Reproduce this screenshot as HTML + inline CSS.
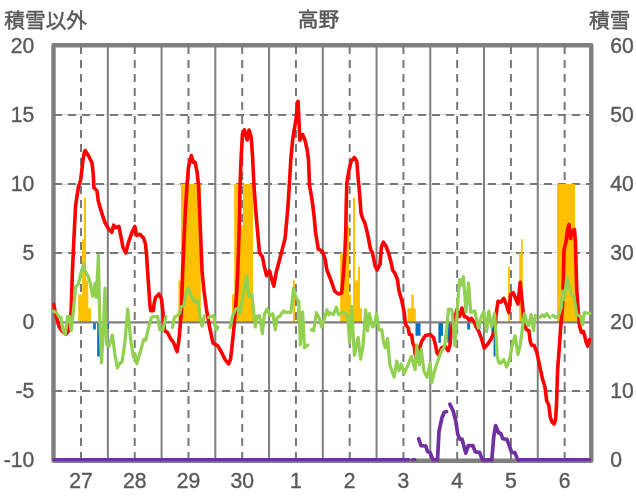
<!DOCTYPE html>
<html lang="ja"><head><meta charset="utf-8"><title>高野</title>
<style>html,body{margin:0;padding:0;background:#fff}svg{display:block}.t{filter:grayscale(1)}text{font-family:"Liberation Sans","Noto Sans CJK JP",sans-serif;fill:#595959}</style>
</head><body>
<svg width="636" height="501" viewBox="0 0 636 501">
<rect width="636" height="501" fill="#fff"/>
<rect x="53.5" y="45.25" width="537.80" height="415.45" fill="none" stroke="#7f7f7f" stroke-width="4.4" stroke-linejoin="round"/>
<g stroke="#d9d9d9" stroke-width="1">
<line x1="54.0" x2="591.6" y1="114.5" y2="114.5"/>
<line x1="54.0" x2="591.6" y1="184.5" y2="184.5"/>
<line x1="54.0" x2="591.6" y1="252.5" y2="252.5"/>
<line x1="54.0" x2="591.6" y1="391.5" y2="391.5"/>
</g>
<g stroke="#787878" stroke-width="2" stroke-dasharray="8 6">
<line x1="54.0" x2="591.6" y1="115.0" y2="115.0"/>
<line x1="54.0" x2="591.6" y1="184.0" y2="184.0"/>
<line x1="54.0" x2="591.6" y1="253.0" y2="253.0"/>
<line x1="54.0" x2="591.6" y1="391.0" y2="391.0"/>
<line x1="81.00" x2="81.00" y1="46" y2="460.0"/>
<line x1="134.74" x2="134.74" y1="46" y2="460.0"/>
<line x1="188.48" x2="188.48" y1="46" y2="460.0"/>
<line x1="242.22" x2="242.22" y1="46" y2="460.0"/>
<line x1="295.96" x2="295.96" y1="46" y2="460.0"/>
<line x1="349.70" x2="349.70" y1="46" y2="460.0"/>
<line x1="403.44" x2="403.44" y1="46" y2="460.0"/>
<line x1="457.18" x2="457.18" y1="46" y2="460.0"/>
<line x1="510.92" x2="510.92" y1="46" y2="460.0"/>
<line x1="564.66" x2="564.66" y1="46" y2="460.0"/>
</g>
<g stroke="#7f7f7f" stroke-width="2">
<line x1="107.84" x2="107.84" y1="46.0" y2="460.0"/>
<line x1="161.58" x2="161.58" y1="46.0" y2="460.0"/>
<line x1="215.32" x2="215.32" y1="46.0" y2="460.0"/>
<line x1="269.06" x2="269.06" y1="46.0" y2="460.0"/>
<line x1="322.80" x2="322.80" y1="46.0" y2="460.0"/>
<line x1="376.54" x2="376.54" y1="46.0" y2="460.0"/>
<line x1="430.28" x2="430.28" y1="46.0" y2="460.0"/>
<line x1="484.02" x2="484.02" y1="46.0" y2="460.0"/>
<line x1="537.76" x2="537.76" y1="46.0" y2="460.0"/>
</g>
<path fill="#ffc000" d="M78.2,322.0V294.4H82.2V239.2H84.0V197.8H86.0V280.6H88.3V308.2H91.0V322.0ZM178.4,322.0V280.6H180.9V184.0H200.8V322.0ZM232.0,322.0V294.4H234.2V184.0H240.5V225.4H243.0V184.0H253.0V322.0ZM293.0,322.0V280.6H295.0V322.0ZM297.0,322.0V308.2H299.0V322.0ZM340.2,322.0V253.0H347.0V225.4H349.0V294.4H351.0V322.0ZM353.0,322.0V197.8H355.2V280.6H358.0V266.8H360.0V308.2H362.0V322.0ZM407.5,322.0V308.2H411.3V294.4H413.7V308.2H415.8V322.0ZM508.0,322.0V266.8H509.8V322.0ZM519.2,322.0V253.0H521.0V239.2H522.8V322.0ZM557.0,322.0V184.0H575.0V239.2H577.2V322.0Z"/>
<path fill="#0070c0" d="M93.2,322.0V329.6H95.8V322.0ZM97.2,322.0V356.5H100.0V322.0ZM102.0,322.0V328.9H104.0V322.0ZM107.3,322.0V328.9H109.0V322.0ZM415.5,322.0V335.8H420.5V322.0ZM438.4,322.0V342.7H440.9V335.8H443.0V322.0ZM447.4,322.0V342.7H450.4V322.0ZM467.2,322.0V329.6H470.0V322.0ZM477.6,322.0V328.9H480.5V322.0ZM491.4,322.0V335.8H493.6V356.5H495.6V322.0Z"/>
<line x1="54.0" x2="591.6" y1="322.3" y2="322.3" stroke="#7f7f7f" stroke-width="2.3"/>
<polyline fill="none" stroke="#ff0000" stroke-width="3.6" stroke-linejoin="round" stroke-linecap="round" points="53.8,304.5 55.4,313.0 59.0,326.5 62.0,331.0 66.0,334.0 68.5,331.0 69.5,326.0 71.1,311.0 72.4,272.0 73.7,243.4 74.6,224.8 75.6,205.8 78.4,186.9 80.6,180.5 81.6,172.0 83.0,160.0 84.2,153.0 85.1,150.5 88.9,156.5 92.1,163.2 93.2,173.6 94.0,187.8 97.0,190.7 98.3,201.1 100.2,207.7 103.1,217.2 105.0,222.6 108.4,228.6 111.7,232.4 113.7,225.2 116.1,227.7 118.9,226.3 120.9,236.3 123.0,247.5 125.8,253.0 128.6,241.9 132.1,232.1 134.9,226.5 136.6,235.4 139.8,234.2 143.3,237.7 145.4,243.3 146.6,255.0 147.6,271.9 149.0,290.8 149.8,304.0 150.7,310.8 153.2,310.8 154.2,303.0 155.6,297.5 159.0,294.0 161.5,299.0 163.0,313.0 164.5,330.5 167.6,332.7 170.4,338.3 173.3,342.1 177.1,351.6 179.0,339.3 180.5,322.2 181.5,309.0 182.6,272.0 184.3,234.0 185.4,210.0 186.9,186.9 188.4,167.9 191.3,155.6 193.2,162.2 195.1,162.2 197.0,171.7 198.5,185.0 199.4,205.8 200.4,230.0 202.1,271.9 204.0,290.8 206.4,309.0 209.7,327.9 213.1,343.1 217.8,345.9 220.7,350.7 225.4,360.1 228.6,363.9 230.5,359.2 232.0,346.9 233.9,327.9 235.5,309.0 236.8,290.8 237.7,271.9 238.7,243.4 239.6,215.0 240.0,186.9 241.1,158.4 242.5,133.5 244.4,129.8 247.2,140.0 249.1,130.0 251.2,137.5 252.6,157.0 254.0,186.0 255.7,210.0 257.6,232.0 259.5,252.9 262.4,256.7 264.3,266.2 266.5,275.7 269.6,270.9 271.8,279.5 273.8,286.1 276.3,272.0 281.4,252.9 285.2,237.7 286.6,222.0 288.0,205.8 289.2,186.9 290.9,158.4 292.7,139.5 294.2,130.0 296.0,119.0 298.0,101.2 299.9,140.2 302.6,134.5 305.0,140.2 307.2,150.0 308.5,160.0 309.5,185.0 312.1,200.1 314.0,215.3 315.5,232.0 318.3,249.1 322.1,251.0 325.0,258.6 326.9,270.0 330.7,279.5 334.5,290.8 338.2,294.0 341.7,292.7 343.6,271.9 344.9,252.9 345.8,230.0 346.2,205.8 346.8,183.1 348.7,171.7 351.1,161.3 354.4,157.5 356.8,161.3 358.1,177.4 359.5,192.6 361.0,213.0 362.9,219.1 364.8,222.6 367.6,234.0 370.5,249.1 372.4,252.9 375.2,266.2 377.1,270.0 380.0,264.3 381.4,247.0 383.4,242.2 386.1,246.5 388.4,252.5 391.0,262.0 392.6,270.0 395.2,273.8 397.4,279.5 399.0,290.8 401.8,300.8 404.3,313.0 405.3,324.0 408.2,328.0 409.3,334.3 411.7,335.0 412.8,343.5 414.2,345.5 415.0,353.5 416.9,361.0 418.9,350.0 421.7,341.2 425.5,335.5 430.2,334.5 433.5,337.5 435.5,345.0 437.0,353.0 438.8,354.5 441.6,347.8 445.4,346.5 448.2,350.7 450.0,345.0 451.2,330.0 452.4,324.0 454.9,318.4 456.8,309.9 459.6,316.5 461.9,308.0 464.4,316.5 467.2,317.5 469.1,320.3 471.4,318.4 473.8,321.3 476.3,327.0 478.6,330.8 481.4,338.5 484.2,348.0 487.6,344.2 491.4,338.5 494.0,333.0 495.2,328.0 496.1,314.5 498.0,301.2 500.9,302.1 503.7,298.3 506.5,305.0 508.8,312.6 510.7,294.5 513.2,292.7 516.0,299.3 517.9,304.0 520.2,282.2 522.1,301.2 524.0,322.0 526.4,329.6 528.9,330.6 530.2,341.4 531.6,345.2 534.0,345.2 536.9,352.7 539.7,366.0 542.6,379.3 545.0,387.0 546.7,401.0 548.8,405.0 550.3,417.5 552.1,422.1 554.0,424.0 555.5,420.3 556.5,405.2 557.6,370.0 559.2,349.0 560.6,328.0 562.5,306.9 563.2,285.0 564.0,250.0 566.0,241.9 567.5,230.0 569.0,224.5 570.5,238.5 572.5,231.0 574.5,229.5 575.4,242.0 576.0,265.0 576.8,290.0 578.3,312.0 579.5,325.8 581.4,332.5 583.6,331.5 586.2,342.3 587.7,346.1 589.6,339.5"/>
<g fill="none" stroke="#92d050" stroke-width="3.2" stroke-linejoin="round" stroke-linecap="round">
<polyline points="53.5,311.2 56.3,312.5 59.0,316.6 60.8,317.0 63.0,330.0 65.3,334.5 67.5,316.6 69.3,316.1 71.2,330.5 73.4,311.0 75.6,287.0 78.4,284.2 81.0,272.9 83.5,263.9 85.0,270.9 88.0,275.9 90.0,281.9 92.7,296.5 95.1,283.2 96.4,297.5 98.4,255.0 99.6,315.0 101.5,363.0 103.5,325.0 105.0,288.0 106.5,344.0 109.0,346.0 112.4,335.0 115.0,355.0 117.4,368.0 120.0,363.0 122.0,362.0 124.9,343.1 127.7,309.0 130.6,339.3 133.4,357.3 134.9,353.5 136.8,363.9 140.0,352.6 143.8,339.3 145.7,340.2 148.6,327.0 151.4,317.5 154.3,316.5 157.6,316.6 159.8,330.0"/>
<polyline points="162.8,329.8 165.9,316.6"/>
<polyline points="172.5,327.4 174.3,317.5 177.9,315.2 179.7,313.0 181.0,306.7 183.7,305.8 186.5,291.0 188.4,288.0 191.3,296.5 195.1,302.2 197.9,300.3 200.2,318.4 202.1,326.0 204.5,315.6"/>
<polyline points="208.3,317.5 211.2,316.5 214.0,315.6 215.0,326.0 216.5,329.8 217.8,327.0"/>
<polyline points="230.0,327.6 233.0,314.6 235.8,309.0 238.7,308.0 240.0,313.7 241.5,304.0 242.5,299.5 244.4,287.0 246.8,275.7 248.7,296.5 251.9,293.7 253.3,309.0 255.4,327.0 256.7,316.5 259.5,315.6 262.4,333.6 264.3,314.6 267.1,309.0 270.0,315.6 272.8,313.7 275.3,329.8 277.2,317.5 279.5,316.5 282.0,312.9 284.0,311.0 286.0,312.4 291.0,312.4 293.5,288.0 296.0,298.0 298.8,301.4 300.3,345.0 302.6,311.8 304.5,347.8 307.9,345.0"/>
<polyline points="311.3,329.8 313.6,330.8 316.4,312.7 319.3,318.4 321.6,327.0 324.0,320.3 326.9,309.9 328.8,314.6 330.7,312.7 333.5,314.6 336.4,307.1 338.6,314.6 342.0,312.7 345.8,313.7 347.7,316.5 349.6,342.1 351.5,306.1 354.4,355.4 358.2,337.4 360.6,359.2 362.9,346.9 365.7,309.9 367.6,330.8 369.5,313.7 372.4,327.0 374.3,326.0 376.5,313.7 379.0,329.8 381.8,329.8 383.4,341.2 385.3,347.8 387.6,338.3 389.9,364.9 394.2,377.2 396.7,361.1 399.0,370.6 401.2,363.9 404.3,373.4 407.5,365.8 411.3,356.4 415.1,369.6 416.6,345.0 419.4,364.9 421.3,349.7 424.0,371.5 427.0,377.2 430.2,363.0 431.6,382.9 435.0,369.6 438.8,358.2 441.6,350.7 444.5,346.9 446.7,327.9 448.6,309.0 452.0,309.9 453.6,327.9 454.9,345.9 456.8,318.4 458.3,295.0 459.6,279.5 461.5,285.0 463.4,276.6 466.0,312.0 468.6,283.0 470.7,312.5 474.8,310.9 478.4,328.0 481.0,318.0 483.8,311.5 486.6,331.5 488.8,311.2 491.6,326.5 494.6,313.5 496.3,340.0 497.2,356.5 499.0,363.2 501.0,363.2 503.7,359.4 506.5,367.0 509.4,360.3 512.2,345.2 515.1,335.7 517.9,354.6 520.2,345.2 522.7,325.8 524.5,313.5 527.4,324.9 529.0,325.5 531.2,314.5 533.5,330.6 535.4,315.4"/>
<polyline points="539.6,317.5 542.4,315.0 544.5,316.8 546.6,313.6 550.0,317.5"/>
<polyline points="552.8,315.4 555.6,317.5 559.1,314.7 561.2,307.7 562.6,291.0 564.4,299.3 566.8,277.5 569.1,286.0 571.9,295.5 573.8,295.5 576.7,314.5 580.5,316.4 582.4,324.9 584.3,312.6 590.0,313.5"/>
</g>
<g fill="none" stroke="#7030a0" stroke-width="3.7" stroke-linejoin="round" stroke-linecap="round">
<polyline points="418.6,438.7 421.0,445.7 425.8,446.0 427.5,451.5 430.0,452.5 433.0,459.9 437.5,459.9 439.0,431.5 441.8,418.3 444.2,412.3 446.5,411.7"/>
<polyline points="449.9,404.2 453.1,410.8 455.6,420.2 457.8,434.3 459.7,439.1 462.0,439.1 465.8,453.2 468.2,445.7 472.9,445.7 475.2,451.9 479.5,452.3 482.4,459.9 491.8,459.9 493.7,437.2 495.6,425.5 498.4,432.5 500.8,433.4 502.7,438.7 506.9,439.4 509.7,446.6 511.6,452.3 514.8,452.6 517.8,459.9 519.0,459.9"/>
<line x1="54" x2="408.7" y1="459.65" y2="459.65" stroke-width="3.3"/>
<line x1="412.5" x2="414.8" y1="459.65" y2="459.65" stroke-width="3.3"/>
<line x1="518" x2="589.8" y1="459.65" y2="459.65" stroke-width="3.3"/>
</g>
<g class="t" font-size="20.7" stroke="#595959" stroke-width="0.5">
<text x="4.3" y="27.5">積雪以外</text>
<text x="318.5" y="27" text-anchor="middle">高野</text>
<text x="589.1" y="27.5">積雪</text>
</g>
<g class="t" font-size="22.3" stroke="#595959" stroke-width="0.4">
<g transform="translate(34.3,53.4) scale(0.95,1)"><text text-anchor="end">20</text></g>
<g transform="translate(34.3,122.4) scale(0.95,1)"><text text-anchor="end">15</text></g>
<g transform="translate(34.3,191.4) scale(0.95,1)"><text text-anchor="end">10</text></g>
<g transform="translate(34.3,260.4) scale(0.95,1)"><text text-anchor="end">5</text></g>
<g transform="translate(34.3,329.4) scale(0.95,1)"><text text-anchor="end">0</text></g>
<g transform="translate(34.3,398.4) scale(0.95,1)"><text text-anchor="end">-5</text></g>
<g transform="translate(34.3,467.4) scale(0.95,1)"><text text-anchor="end">-10</text></g>
<g transform="translate(610.3,53.4) scale(0.95,1)"><text text-anchor="start">60</text></g>
<g transform="translate(610.3,122.4) scale(0.95,1)"><text text-anchor="start">50</text></g>
<g transform="translate(610.3,191.4) scale(0.95,1)"><text text-anchor="start">40</text></g>
<g transform="translate(610.3,260.4) scale(0.95,1)"><text text-anchor="start">30</text></g>
<g transform="translate(610.3,329.4) scale(0.95,1)"><text text-anchor="start">20</text></g>
<g transform="translate(610.3,398.4) scale(0.95,1)"><text text-anchor="start">10</text></g>
<g transform="translate(610.3,467.4) scale(0.95,1)"><text text-anchor="start">0</text></g>
<g transform="translate(81.0,488.1) scale(0.95,1)"><text text-anchor="middle">27</text></g>
<g transform="translate(134.7,488.1) scale(0.95,1)"><text text-anchor="middle">28</text></g>
<g transform="translate(188.5,488.1) scale(0.95,1)"><text text-anchor="middle">29</text></g>
<g transform="translate(242.2,488.1) scale(0.95,1)"><text text-anchor="middle">30</text></g>
<g transform="translate(296.0,488.1) scale(0.95,1)"><text text-anchor="middle">1</text></g>
<g transform="translate(349.7,488.1) scale(0.95,1)"><text text-anchor="middle">2</text></g>
<g transform="translate(403.4,488.1) scale(0.95,1)"><text text-anchor="middle">3</text></g>
<g transform="translate(457.2,488.1) scale(0.95,1)"><text text-anchor="middle">4</text></g>
<g transform="translate(510.9,488.1) scale(0.95,1)"><text text-anchor="middle">5</text></g>
<g transform="translate(564.7,488.1) scale(0.95,1)"><text text-anchor="middle">6</text></g>
</g>
</svg></body></html>
